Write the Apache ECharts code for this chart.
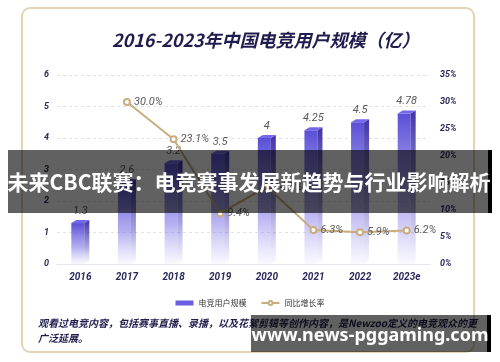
<!DOCTYPE html>
<html><head><meta charset="utf-8">
<script src="https://cdn.jsdelivr.net/npm/echarts@6/dist/echarts.min.js"></script>
<style>html,body{margin:0;padding:0;background:#fff}#c{width:500px;height:362px}</style>
</head><body><div id="c"></div>
<script>
var years = ['2016','2017','2018','2019','2020','2021','2022','2023e'];
var users = [1.3, 2.6, 3.2, 3.5, 4, 4.25, 4.5, 4.78];
var growth = [null, 30.0, 23.1, 9.4, 14.3, 6.3, 5.9, 6.2];
var leftTicks = [0, 6, 1];
var rightTicks = [0, 35, 5];

var chart = echarts.init(document.getElementById('c'));
var numFont = 'Roboto, "Noto Sans CJK SC", sans-serif';
function renderBar(params, api) {
  var v = api.value(1);
  var base = api.coord([api.value(0), 0]);
  var top = api.coord([api.value(0), v]);
  var w = 13, d = 5, dy = 3;
  var x0 = base[0] - (w + d) / 2;
  var h = base[1] - top[1];
  return {
    type: 'group',
    children: [
      {type: 'rect', shape: {x: x0, y: top[1], width: w, height: h},
       style: {fill: new echarts.graphic.LinearGradient(0, 0, 0, 1, [
         {offset: 0, color: '#5a4fd6'}, {offset: 0.6, color: 'rgba(120,110,228,0.55)'}, {offset: 1, color: 'rgba(150,140,240,0.05)'}])}},
      {type: 'polygon', shape: {points: [[x0 + w, top[1]], [x0 + w + d, top[1] - dy], [x0 + w + d, base[1] - dy], [x0 + w, base[1]]]},
       style: {fill: new echarts.graphic.LinearGradient(0, 0, 0, 1, [
         {offset: 0, color: '#3e33a6'}, {offset: 0.6, color: 'rgba(80,70,190,0.5)'}, {offset: 1, color: 'rgba(120,110,220,0.03)'}])}},
      {type: 'polygon', shape: {points: [[x0, top[1]], [x0 + d, top[1] - dy], [x0 + w + d, top[1] - dy], [x0 + w, top[1]]]},
       style: {fill: '#7468ea'}},
      {type: 'text', x: base[0], y: top[1] - 12,
       style: {text: String(v), fill: '#5a5a5a', font: 'italic 11px ' + numFont, align: 'center', verticalAlign: 'middle'}}
    ]
  };
}

chart.setOption({
  animation: false,
  title: {text: '2016-2023年中国电竞用户规模（亿）', left: 107, top: 26,
    textStyle: {color: '#1f1d4d', fontSize: 18, fontStyle: 'italic', fontWeight: 'bold', fontFamily: '"Noto Sans CJK SC", sans-serif'}},
  grid: {left: 57, right: 70, top: 75, bottom: 98},
  legend: {top: 294, left: 'center', itemGap: 14, itemWidth: 18, itemHeight: 5,
    textStyle: {fontSize: 8, color: '#333', fontFamily: '"Noto Sans CJK SC", sans-serif'},
    data: [{name: '电竞用户规模', icon: 'rect', itemStyle: {color: '#6a5fe0'}}, {name: '同比增长率'}]},
  xAxis: {type: 'category', data: years,
    axisLine: {lineStyle: {color: '#e6e6ee'}}, axisTick: {show: false},
    axisLabel: {color: '#2a2a5a', fontSize: 10, fontStyle: 'italic', fontWeight: 'bold', fontFamily: numFont, margin: 8}},
  yAxis: [
    {type: 'value', min: leftTicks[0], max: leftTicks[1], interval: leftTicks[2],
     axisLine: {show: false}, axisTick: {show: false},
     axisLabel: {color: '#2a2a5a', fontSize: 9, fontStyle: 'italic', fontWeight: 'bold', fontFamily: numFont, margin: 8},
     splitLine: {lineStyle: {type: [3, 3], color: '#e2e2e2'}}},
    {type: 'value', min: rightTicks[0], max: rightTicks[1], interval: rightTicks[2],
     axisLine: {show: false}, axisTick: {show: false}, splitLine: {show: false},
     axisLabel: {formatter: '{value}%', color: '#2a2a5a', fontSize: 9, fontStyle: 'italic', fontWeight: 'bold', fontFamily: numFont, margin: 10}}
  ],
  series: [
    {name: '电竞用户规模', type: 'custom', renderItem: renderBar, itemStyle: {color: '#6a5fe0'},
     data: users.map(function (v, i) { return [i, v]; }), z: 2},
    {name: '同比增长率', type: 'line', yAxisIndex: 1, data: growth, z: 3,
     symbol: 'emptyCircle', symbolSize: 6, lineStyle: {color: '#c9ad7f', width: 2},
     itemStyle: {color: '#c9ad7f', borderWidth: 1.5},
     label: {show: true, position: 'right', distance: 3, color: '#5a5a5a', fontSize: 11, fontStyle: 'italic', fontFamily: numFont,
       formatter: function (p) { return p.value.toFixed(1) + '%'; }}}
  ],
  graphic: [
    {type: 'rect', z: -10, shape: {x: 22, y: 8, width: 452, height: 344, r: 8},
     style: {fill: '#fff', stroke: '#e4d4b4', lineWidth: 2}},
    {type: 'text', z: 10, left: 38, top: 316,
     style: {text: '观看过电竞内容，包括赛事直播、录播，以及花絮剪辑等创作内容，是Newzoo定义的电竞观众的更\n广泛延展。',
       font: 'italic bold 10px "Noto Sans CJK SC", sans-serif', fill: '#1f1d4d', lineHeight: 15}},
    {type: 'rect', z: 100, shape: {x: 8, y: 150, width: 480, height: 63}, style: {fill: 'rgba(0,0,0,0.62)'}},
    {type: 'rect', z: 100, shape: {x: 488, y: 150, width: 4, height: 63}, style: {fill: '#000'}},
    {type: 'text', z: 101, x: 249, y: 182,
     style: {text: '未来CBC联赛：电竞赛事发展新趋势与行业影响解析', font: 'bold 21px "Noto Sans CJK SC", sans-serif',
       fill: '#fff', align: 'center', verticalAlign: 'middle'}},
    {type: 'rect', z: 100, shape: {x: 251, y: 315, width: 236, height: 37}, style: {fill: 'rgba(0,0,0,0.62)'}},
    {type: 'rect', z: 100, shape: {x: 487, y: 315, width: 4, height: 37}, style: {fill: '#000'}},
    {type: 'text', z: 101, x: 370, y: 336,
     style: {text: 'www.news-pggaming.com', font: 'bold 18px "Noto Sans", sans-serif',
       fill: '#fff', align: 'center', verticalAlign: 'middle'}}
  ]
});
</script></body></html>
